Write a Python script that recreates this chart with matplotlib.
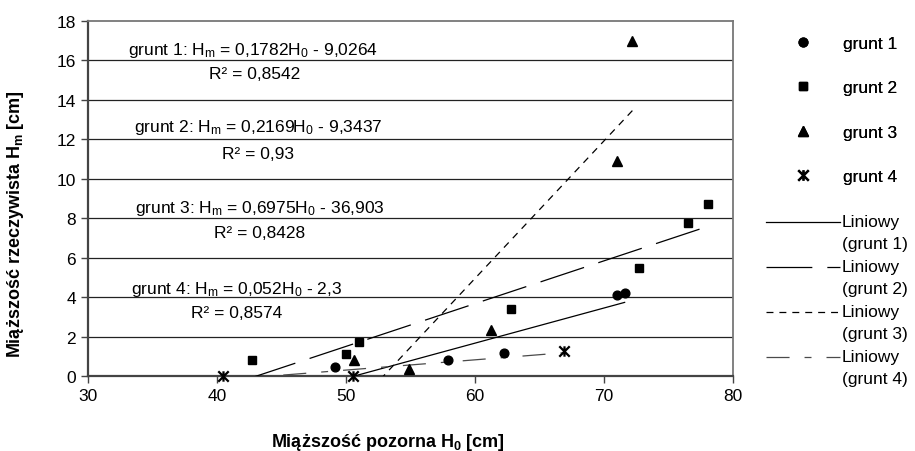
import numpy as np
import matplotlib
matplotlib.use('Agg')
import matplotlib.pyplot as plt
from matplotlib.lines import Line2D
from matplotlib.path import Path
from matplotlib.legend_handler import HandlerLine2D

plt.rcParams['font.family'] = ['Liberation Sans', 'DejaVu Sans']
plt.rcParams['mathtext.fontset'] = 'custom'
plt.rcParams['mathtext.rm'] = 'Liberation Sans'
plt.rcParams['mathtext.it'] = 'Liberation Sans:italic'
plt.rcParams['mathtext.bf'] = 'Liberation Sans:bold'
plt.rcParams['lines.scale_dashes'] = False

# data
g1_x = [49.15, 57.9, 62.25, 71.0, 71.6]
g1_y = [0.44, 0.83, 1.15, 4.09, 4.19]
g2_x = [42.7, 50.0, 51.0, 62.8, 72.75, 76.55, 78.05]
g2_y = [0.83, 1.13, 1.73, 3.4, 5.48, 7.77, 8.74]
g3_x = [50.6, 54.9, 61.25, 71.0, 72.2]
g3_y = [0.82, 0.36, 2.34, 10.9, 16.98]
g4_x = [40.5, 50.55, 66.9]
g4_y = [0.0, 0.0, 1.27]

series_x = [g1_x, g2_x, g3_x, g4_x]
series_y = [g1_y, g2_y, g3_y, g4_y]
names = ['grunt 1', 'grunt 2', 'grunt 3', 'grunt 4']

# trend line coefficients (from the labels)
slopes = [0.1782, 0.2169, 0.6975, 0.052]
intercepts = [-9.0264, -9.3437, -36.903, -2.3]
slope_txt = ['0,1782', '0,2169', '0,6975', '0,052']
icpt_txt = ['9,0264', '9,3437', '36,903', '2,3']
r2_txt = ['0,8542', '0,93', '0,8428', '0,8574']

# label positions (data coords)
eq_pos = [(42.75, 16.35), (43.2, 12.4), (43.3, 8.33), (41.5, 4.21)]
r2_pos = [(42.95, 15.12), (43.2, 11.03), (43.3, 7.05), (41.5, 2.98)]

star = Path([(0, -1), (0, 1), (-1, -1), (1, 1), (-1, 1), (1, -1)],
            [Path.MOVETO, Path.LINETO, Path.MOVETO, Path.LINETO, Path.MOVETO, Path.LINETO])
markers = ['o', 's', '^', star]
msizes = [6.3, 5.8, 7.8, 7.5]

line_styles = [
    dict(color='black', linestyle='-'),
    dict(color='black', linestyle=(0, (33, 10.8))),
    dict(color='black', linestyle=(0, (5, 4.3))),
    dict(color='#4a4a4a', linestyle=(0, (16.6, 10.8, 5, 10.8))),
]

FS = 12.5


class RaisedLine(HandlerLine2D):
    def create_artists(self, legend, orig_handle, xdescent, ydescent,
                       width, height, fontsize, trans):
        arts = super().create_artists(legend, orig_handle, xdescent, ydescent,
                                      width, height, fontsize, trans)
        for a in arts:
            a.set_ydata(np.asarray(a.get_ydata()) + fontsize * 0.58)
        return arts


fig = plt.figure(figsize=(9.15, 4.52), dpi=100)
ax = fig.add_axes([88 / 915, 75 / 452, 645 / 915, 355 / 452])

for y in range(2, 18, 2):
    ax.axhline(y, color='#222222', lw=0.9, zorder=1)

marker_handles = []
for i in range(4):
    if markers[i] is star:
        ax.plot(series_x[i], series_y[i], linestyle='none', marker=star,
                ms=msizes[i], mec='black', mew=1.6, zorder=4, clip_on=False)
        h = Line2D([], [], linestyle='none', marker=star, ms=msizes[i],
                   mec='black', mew=1.6)
    else:
        ax.plot(series_x[i], series_y[i], linestyle='none', marker=markers[i],
                ms=msizes[i], color='black', mec='black', zorder=4, clip_on=False)
        h = Line2D([], [], linestyle='none', marker=markers[i], ms=msizes[i],
                   color='black')
    marker_handles.append(h)

line_handles = []
for i in range(4):
    xs = np.array([min(series_x[i]), max(series_x[i])])
    ys = slopes[i] * xs + intercepts[i]
    ax.plot(xs, ys, lw=0.9, zorder=3, **line_styles[i])
    line_handles.append(Line2D([], [], lw=0.9, **line_styles[i]))

for i in range(4):
    ax.text(eq_pos[i][0], eq_pos[i][1],
            names[i] + ': H$_\\mathregular{m}$ = ' + slope_txt[i] + 'H$_\\mathregular{0}$ - ' + icpt_txt[i],
            ha='center', va='baseline', fontsize=FS)
    ax.text(r2_pos[i][0], r2_pos[i][1], 'R² = ' + r2_txt[i],
            ha='center', va='baseline', fontsize=FS)

ax.set_xlim(30, 80)
ax.set_ylim(0, 18)
ax.set_xticks(range(30, 81, 10))
ax.set_yticks(range(0, 19, 2))
ax.tick_params(labelsize=FS, length=5, width=1, color='#444444', direction='out')

for s in ['left', 'bottom']:
    ax.spines[s].set_color('#444444')
    ax.spines[s].set_linewidth(1.6)
for s in ['top', 'right']:
    ax.spines[s].set_color('#777777')
    ax.spines[s].set_linewidth(1.3)

ax.set_xlabel(r'Miąższość pozorna $\mathbf{H_0}$ [cm]', fontsize=13, fontweight='bold')
ax.set_ylabel(r'Miąższość rzeczywista $\mathbf{H_m}$ [cm]', fontsize=13, fontweight='bold')
ax.xaxis.set_label_coords((388 - 88) / 645, -0.155)
ax.yaxis.set_label_coords(-0.096, 0.431)

leg1 = fig.legend(marker_handles, names, loc='upper left',
                  bbox_to_anchor=(766 / 915, 1 - 37 / 452), frameon=False,
                  fontsize=FS, handlelength=4.26, handletextpad=0.15,
                  labelspacing=1.68, borderpad=0, borderaxespad=0, numpoints=1)
fig.add_artist(leg1)
leg2 = fig.legend(line_handles, ['Liniowy\n(' + n + ')' for n in names], loc='upper left',
                  bbox_to_anchor=(766 / 915, 1 - 215 / 452), frameon=False,
                  fontsize=FS, handlelength=4.26, handletextpad=0.1,
                  labelspacing=0.44, borderpad=0, borderaxespad=0,
                  handler_map={Line2D: RaisedLine()})
for t in leg2.get_texts():
    t.set_linespacing(1.6)

fig.savefig('out.png', dpi=100)
